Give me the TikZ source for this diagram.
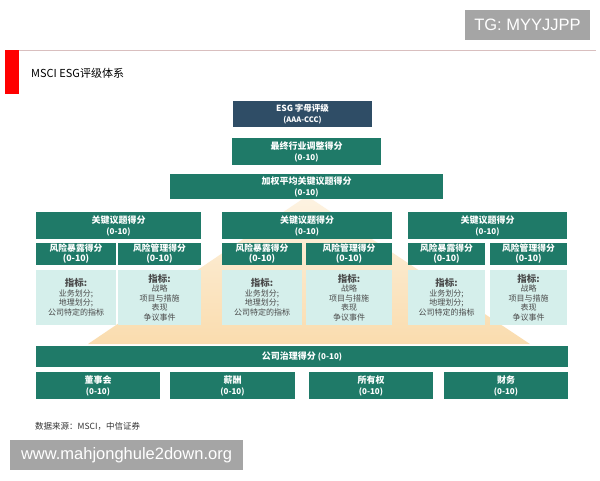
\documentclass[tikz,border=0pt]{standalone}
\usepackage{fontspec}
\setmainfont{Noto Sans CJK SC}
\newfontfamily\wmfont{Liberation Sans}
\usetikzlibrary{shadings}
\definecolor{teal1}{HTML}{1F7A68}
\definecolor{slate1}{HTML}{2F4D66}
\definecolor{lightind}{HTML}{D5EFEB}
\definecolor{peachTop}{HTML}{FDF3E2}
\definecolor{peachBot}{HTML}{FADCAE}
\definecolor{wmgray}{HTML}{A5A5A5}
\definecolor{indtext}{HTML}{4A4A4A}
\tikzset{
  bx/.style={fill=teal1, text=white, font=\bfseries\fontsize{9}{11}\selectfont, align=center, inner sep=0pt, draw=none},
  subbx/.style={fill=teal1, text=white, font=\bfseries\fontsize{8.8}{10}\selectfont, align=center, inner sep=0pt, minimum height=22pt},
  indbx/.style={fill=lightind, text=indtext, font=\fontsize{8}{9.5}\selectfont, align=center, inner sep=0pt, minimum height=55pt},
  wm/.style={fill=wmgray, text=white, inner sep=0pt, font=\wmfont},
}
\newcommand{\scrsz}{\fontsize{8}{10}\selectfont}
\newcommand{\idxL}{{\bfseries\fontsize{9.5}{10}\selectfont 指标:}\\业务划分;\\地理划分;\\公司特定的指标}
\newcommand{\idxR}{{\bfseries\fontsize{9.5}{10}\selectfont 指标:}\\战略\\项目与措施\\表现\\争议事件}
\begin{document}
\begin{tikzpicture}[x=1pt,y=-1pt]
\useasboundingbox[fill=white] (0,0) rectangle (600,480);
% header
\fill[red] (5,50) rectangle (19,94);
\draw[line width=0.6pt, color=red!25!gray!40] (19,50.3) -- (596,50.3);
\node[anchor=west, font=\fontsize{11}{13}\selectfont, inner sep=0pt] (title) at (31,73) {MSCI ESG评级体系};
% watermark top
\node[wm, minimum width=125pt, minimum height=30pt, font=\wmfont\fontsize{16.5}{19}\selectfont] (tg) at (527.5,25) {TG: MYYJJPP};
% pyramid
\shade[top color=peachTop, bottom color=peachBot] (307,196) -- (530,344) -- (88,344) -- cycle;
% top boxes
\node[bx, fill=slate1, minimum width=139pt, minimum height=26pt, font=\bfseries\fontsize{8.5}{10.5}\selectfont] (esg) at (302.5,114) {ESG 字母评级\\{\fontsize{7.5}{9}\selectfont(AAA-CCC)}};
\node[bx, minimum width=149pt, minimum height=27pt] (final) at (306.5,151.5) {最终行业调整得分\\{\scrsz(0-10)}};
\node[bx, minimum width=273pt, minimum height=25pt] (weighted) at (306.5,186.5) {加权平均关键议题得分\\{\scrsz(0-10)}};
% left group
\node[bx, minimum width=165pt, minimum height=27pt] (keyL) at (118.5,225.5) {关键议题得分\\{\scrsz(0-10)}};
\node[subbx, minimum width=80pt] (expL) at (76,254) {风险暴露得分\\(0-10)};
\node[subbx, minimum width=83pt] (mgtL) at (159.5,254) {风险管理得分\\(0-10)};
\node[indbx, minimum width=80pt] (indL1) at (76,297.5) {\idxL};
\node[indbx, minimum width=83pt] (indL2) at (159.5,297.5) {\idxR};
% middle group
\node[bx, minimum width=170pt, minimum height=27pt] (keyM) at (307,225.5) {关键议题得分\\{\scrsz(0-10)}};
\node[subbx, minimum width=80pt] (expM) at (262,254) {风险暴露得分\\(0-10)};
\node[subbx, minimum width=86pt] (mgtM) at (349,254) {风险管理得分\\(0-10)};
\node[indbx, minimum width=80pt] (indM1) at (262,297.5) {\idxL};
\node[indbx, minimum width=86pt] (indM2) at (349,297.5) {\idxR};
% right group
\node[bx, minimum width=159pt, minimum height=27pt] (keyR) at (487.5,225.5) {关键议题得分\\{\scrsz(0-10)}};
\node[subbx, minimum width=77pt] (expR) at (446.5,254) {风险暴露得分\\(0-10)};
\node[subbx, minimum width=77pt] (mgtR) at (528.5,254) {风险管理得分\\(0-10)};
\node[indbx, minimum width=77pt] (indR1) at (446.5,297.5) {\idxL};
\node[indbx, minimum width=77pt] (indR2) at (528.5,297.5) {\idxR};
% governance
\node[bx, minimum width=532pt, minimum height=21pt] (gov) at (302,356.5) {公司治理得分 {\scrsz(0-10)}};
\node[bx, minimum width=124pt, minimum height=27pt] (board) at (98,385.5) {董事会\\{\scrsz(0-10)}};
\node[bx, minimum width=125pt, minimum height=27pt] (pay) at (232.5,385.5) {薪酬\\{\scrsz(0-10)}};
\node[bx, minimum width=124pt, minimum height=27pt] (own) at (371,385.5) {所有权\\{\scrsz(0-10)}};
\node[bx, minimum width=124pt, minimum height=27pt] (acct) at (506,385.5) {财务\\{\scrsz(0-10)}};
% footer
\node[anchor=west, inner sep=0pt, font=\fontsize{8.5}{10}\selectfont, text=black!80] (src) at (35,426.5) {数据来源：MSCI，中信证券};
\node[wm, minimum width=233pt, minimum height=30pt, font=\wmfont\fontsize{16.5}{19}\selectfont] (url) at (126.5,455) {www.mahjonghule2down.org};
\end{tikzpicture}
\end{document}
